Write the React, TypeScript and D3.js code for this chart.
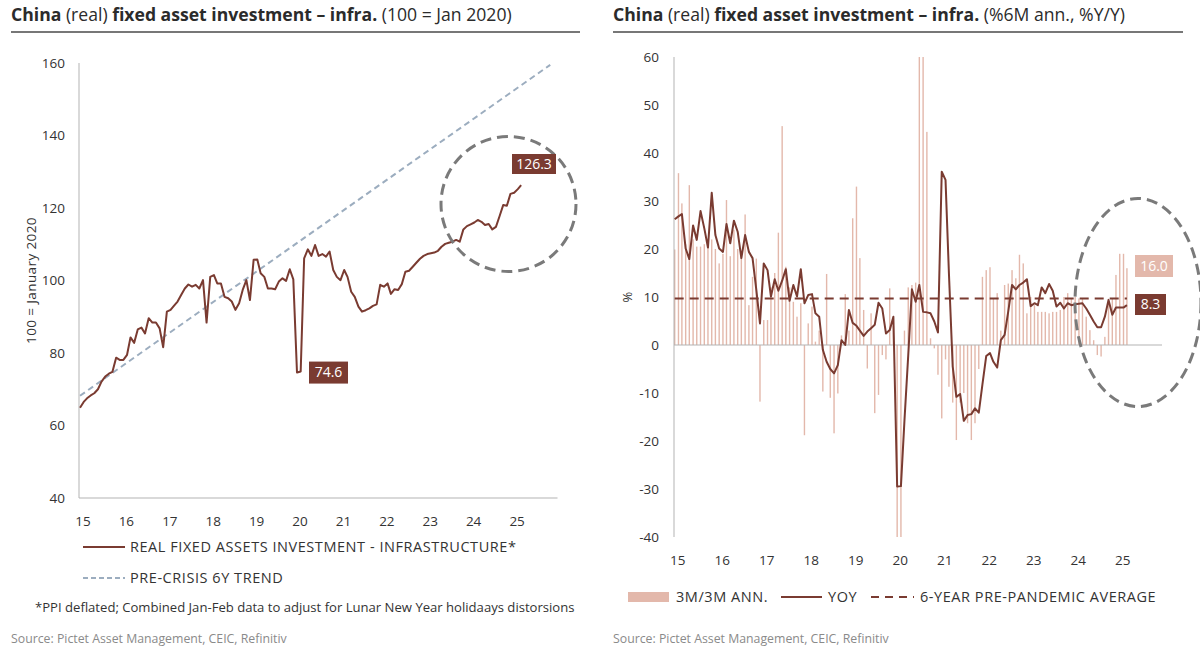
import React from "react";
import * as d3 from "d3";

// ---------- DATA ----------
// Monthly, Jan 2015 .. Mar 2025
const realFai: number[] = [
  64.9, 66.5, 67.5, 68.3, 68.9, 70.0, 72.1, 73.5, 74.3, 74.8, 78.7, 78.1,
  78.1, 79.5, 84.3, 82.8, 86.5, 87.0, 85.4, 89.6, 88.4, 88.4, 86.8, 81.6,
  91.4, 91.9, 93.0, 94.2, 96.0, 97.8, 98.9, 98.3, 98.8, 97.8, 100.1, 88.4,
  101.0, 101.5, 99.2, 99.2, 95.5, 95.1, 94.2, 91.9, 93.7, 97.4, 100.1, 94.6,
  105.7, 105.8, 102.0, 101.0, 97.8, 97.8, 97.6, 99.7, 100.6, 99.9, 103.1, 100.3,
  74.6, 74.9, 106.1, 108.6, 106.8, 109.8, 106.8, 107.3, 106.6, 108.0, 102.9, 101.0,
  100.1, 102.9, 101.0, 96.9, 95.5, 92.8, 91.4, 91.8, 92.3, 93.0, 93.4, 98.8,
  98.3, 99.2, 96.3, 97.6, 97.4, 99.0, 102.4, 102.7, 103.8, 104.9, 106.0, 106.8,
  107.3, 107.5, 107.7, 108.2, 109.3, 110.1, 110.4, 110.7, 111.2, 110.7, 114.1, 115.0,
  115.5, 116.0, 116.7, 116.2, 115.3, 115.6, 114.1, 114.8, 117.8, 120.8, 120.6, 123.9,
  124.2, 125.2, 126.3,
];
const trendStart = { month: 0, value: 68.2 };
const trendEnd = { month: 130, value: 159.5 };
const covidDipRange = [48, 72];

const ann3m3m: number[] = [
  19.9, 35.8, 29.5, 21.0, 33.3, 22.0, 20.5, 20.5, 21.0, 21.5, 22.0, 20.0,
  17.0, 19.0, 30.2, 18.5, 24.0, 20.0, 19.0, 27.2, 8.3, 14.2, 18.0, -11.8,
  5.2, 5.2, 12.0, 15.0, 23.4, 45.6, 16.3, 12.0, 9.0, 5.9, 8.7, -18.8,
  4.5, 8.0, 0.7, 3.0, -9.7, 14.8, -11.0, -18.4, -10.1, 2.0, 10.6, 3.0,
  26.4, 33.0, 18.1, 7.3, -4.9, 6.6, -14.2, -10.4, -2.1, -3.0, 11.8, 4.0,
  -40.0, -40.0, 3.0, 12.0, 12.5, 13.0, 60.0, 60.0, 44.4, 1.4, -0.7, -6.2,
  -15.3, -3.0, -8.7, -12.0, -19.8, -12.0, -10.0, -16.3, -19.8, -16.3, -5.0, 14.2,
  15.6, 16.2, 9.7, 10.8, 3.0, 12.5, 12.8, 15.6, 13.9, 18.8, 17.0, 6.6,
  10.0, 8.3, 6.9, 6.9, 6.9, 6.6, 6.9, 6.9, 7.3, 10.0, 10.8, 9.7,
  10.0, 9.7, 9.7, 5.9, 3.1, 1.0, -2.1, -2.4, 1.7, 9.0, 9.7, 14.6,
  19.0, 19.0, 16.0,
];
const yoy: number[] = [
  26.2, 26.8, 27.3, 20.1, 17.9, 24.9, 21.9, 27.9, 24.3, 20.3, 31.7, 22.9,
  20.1, 19.4, 25.2, 21.2, 25.9, 23.6, 18.1, 22.9, 19.4, 18.1, 11.5, 4.5,
  17.0, 15.6, 10.1, 13.7, 11.3, 13.4, 15.8, 9.2, 12.5, 10.1, 15.8, 8.7,
  10.4, 10.6, 6.6, 5.9, -1.0, -3.5, -5.0, -5.9, -4.2, 1.0, 0.0, 7.3,
  4.6, 4.0, 3.0, 1.9, 2.8, 3.5, 4.2, 8.8, 7.6, 2.4, 3.1, 5.9,
  -29.5, -29.4, -15.7, -2.1, 11.6, 9.0, 12.5, 6.9, 6.8, 6.6, 4.9, 2.6,
  36.1, 34.4, 14.9, -4.5, -10.8, -10.2, -15.8, -14.6, -14.4, -13.2, -14.1, -8.2,
  -2.3, -1.7, -3.5, -4.7, 1.0, 2.1, 7.0, 12.5, 11.6, 12.5, 13.0, 13.7,
  8.1, 8.7, 8.3, 12.0, 10.8, 12.7, 11.3, 8.0, 8.8, 7.6, 8.7, 8.3,
  8.5, 8.6, 8.7, 7.6, 6.3, 4.9, 3.7, 3.7, 5.9, 9.4, 6.3, 7.8,
  7.8, 7.8, 8.3,
];
const prePandemicAvg = 9.7;

const yearTicks = d3.range(2015, 2026);
const leftYTicks = [40, 60, 80, 100, 120, 140, 160];
const rightYTicks = [-40, -30, -20, -10, 0, 10, 20, 30, 40, 50, 60];

// ---------- STYLE ----------
const BROWN = "#7a3b31";
const PINK = "#e3b8ab";
const TREND = "#9cadbf";
const AXIS = "#b3b3b3";
const TEXT = "#333";
const FONT = "'Open Sans', Lato, sans-serif";

const monthDate = (i: number) => new Date(2015, i, 1);
const yearFmt = d3.timeFormat("%y");

export default function App() {
  const domain = [new Date(2015, 0, 1), new Date(2026, 0, 1)];
  const xL = d3.scaleTime().domain(domain).range([80, 557.5]);
  const yL = d3.scaleLinear().domain([40, 160]).range([498, 63]);
  const xR = d3.scaleTime().domain(domain).range([674.7, 1164.2]);
  const yR = d3.scaleLinear().domain([-40, 60]).range([537, 57]);

  const lineL = d3
    .line<number>()
    .x((_, i) => xL(monthDate(i)))
    .y((d) => yL(d));
  const lineR = d3
    .line<number>()
    .x((_, i) => xR(monthDate(i)))
    .y((d) => yR(d));

  const lastL = realFai[realFai.length - 1];
  const dipSlice = realFai.slice(covidDipRange[0], covidDipRange[1]);
  const dipVal = d3.min(dipSlice) as number;
  const dipIdx = covidDipRange[0] + dipSlice.indexOf(dipVal);
  const lastBar = ann3m3m[ann3m3m.length - 1];
  const lastYoy = yoy[yoy.length - 1];

  const barW = 1.4;
  const fs = 13.5;
  const legFs = 14.5;
  const legLs = 0.55;

  return (
    <svg
      width={1200}
      height={656}
      style={{ position: "absolute", left: 0, top: 0, background: "#fff" }}
      fontFamily={FONT}
    >
      {/* ---------- LEFT PANEL ---------- */}
      <text x={11} y={21} fontSize={17.6} fill="#2b2b2b">
        <tspan fontWeight="bold">China</tspan>
        <tspan> (real) </tspan>
        <tspan fontWeight="bold">fixed asset investment – infra.</tspan>
        <tspan> (100 = Jan 2020)</tspan>
      </text>
      <line x1={11} x2={580} y1={32} y2={32} stroke="#777" strokeWidth={2} />

      <line x1={79} x2={79} y1={yL(160)} y2={yL(40)} stroke={AXIS} strokeWidth={1} />
      <line x1={79} x2={557.5} y1={yL(40)} y2={yL(40)} stroke={AXIS} strokeWidth={1} />
      {leftYTicks.map((t) => (
        <text key={t} x={65} y={yL(t)} dy="0.35em" textAnchor="end" fontSize={fs} fill={TEXT}>
          {t}
        </text>
      ))}
      {yearTicks.map((yr) => (
        <text
          key={yr}
          x={xL(new Date(yr, 0, 1)) + 3}
          y={521}
          dy="0.35em"
          textAnchor="middle"
          fontSize={fs}
          fill={TEXT}
        >
          {yearFmt(new Date(yr, 0, 1))}
        </text>
      ))}
      <text
        transform={`translate(31,${yL(100)}) rotate(-90)`}
        textAnchor="middle"
        dy="0.35em"
        fontSize={13.5}
        letterSpacing={0.4}
        fill={TEXT}
      >
        100 = January 2020
      </text>

      <line
        x1={xL(monthDate(trendStart.month))}
        y1={yL(trendStart.value)}
        x2={xL(monthDate(trendEnd.month))}
        y2={yL(trendEnd.value)}
        stroke={TREND}
        strokeWidth={2}
        strokeDasharray="6 4"
      />
      <path d={lineL(realFai) || ""} fill="none" stroke={BROWN} strokeWidth={2} strokeLinejoin="round" />

      <ellipse cx={508.5} cy={204} rx={67.5} ry={67.5} fill="none" stroke="#7a7a7a" strokeWidth={3} strokeDasharray="11 6" />

      <rect x={xL(monthDate(dipIdx)) + 12} y={yL(dipVal) - 11} width={39} height={22} fill={BROWN} />
      <text x={xL(monthDate(dipIdx)) + 31.5} y={yL(dipVal)} dy="0.35em" textAnchor="middle" fontSize={14} fill="#fff">
        {dipVal.toFixed(1)}
      </text>
      <rect x={512} y={154} width={44} height={20} fill={BROWN} />
      <text x={534} y={164} dy="0.35em" textAnchor="middle" fontSize={14} fill="#fff">
        {lastL.toFixed(1)}
      </text>

      <line x1={83} x2={125} y1={547} y2={547} stroke={BROWN} strokeWidth={2} />
      <text x={130} y={547} dy="0.35em" fontSize={legFs} letterSpacing={legLs} fill={TEXT}>
        REAL FIXED ASSETS INVESTMENT - INFRASTRUCTURE*
      </text>
      <line x1={83} x2={125} y1={578} y2={578} stroke={TREND} strokeWidth={2} strokeDasharray="5 3" />
      <text x={130} y={578} dy="0.35em" fontSize={legFs} letterSpacing={legLs} fill={TEXT}>
        PRE-CRISIS 6Y TREND
      </text>
      <text x={35} y={607} dy="0.35em" fontSize={13.1} fill={TEXT}>
        *PPI deflated; Combined Jan-Feb data to adjust for Lunar New Year holidaays distorsions
      </text>
      <text x={11} y={639} dy="0.35em" fontSize={12.3} fill="#8a8a8a">
        Source: Pictet Asset Management, CEIC, Refinitiv
      </text>

      {/* ---------- RIGHT PANEL ---------- */}
      <text x={613} y={21} fontSize={17.6} fill="#2b2b2b">
        <tspan fontWeight="bold">China</tspan>
        <tspan> (real) </tspan>
        <tspan fontWeight="bold">fixed asset investment – infra.</tspan>
        <tspan> (%6M ann., %Y/Y)</tspan>
      </text>
      <line x1={613} x2={1183} y1={32} y2={32} stroke="#777" strokeWidth={2} />

      {ann3m3m.map((v, i) => (
        <rect
          key={i}
          x={xR(monthDate(i)) - barW / 2}
          y={yR(Math.max(0, v))}
          width={barW}
          height={Math.abs(yR(v) - yR(0))}
          fill={PINK}
        />
      ))}

      <line x1={674} x2={674} y1={yR(60)} y2={yR(-40)} stroke={AXIS} strokeWidth={1} />
      <line x1={674} x2={1162} y1={yR(0)} y2={yR(0)} stroke={AXIS} strokeWidth={1} />
      {rightYTicks.map((t) => (
        <text key={t} x={659} y={yR(t)} dy="0.35em" textAnchor="end" fontSize={fs} fill={TEXT}>
          {t}
        </text>
      ))}
      {yearTicks.map((yr) => (
        <text
          key={yr}
          x={xR(new Date(yr, 0, 1)) + 3}
          y={560}
          dy="0.35em"
          textAnchor="middle"
          fontSize={fs}
          fill={TEXT}
        >
          {yearFmt(new Date(yr, 0, 1))}
        </text>
      ))}
      <text
        transform={`translate(627,${yR(10)}) rotate(-90)`}
        textAnchor="middle"
        dy="0.35em"
        fontSize={13}
        fill={TEXT}
      >
        %
      </text>

      <line
        x1={xR(monthDate(0))}
        x2={xR(monthDate(yoy.length - 1))}
        y1={yR(prePandemicAvg)}
        y2={yR(prePandemicAvg)}
        stroke={BROWN}
        strokeWidth={2}
        strokeDasharray="9 6"
      />
      <path d={lineR(yoy) || ""} fill="none" stroke={BROWN} strokeWidth={2} strokeLinejoin="round" />

      <ellipse cx={1138} cy={302.5} rx={63} ry={104} fill="none" stroke="#7a7a7a" strokeWidth={3} strokeDasharray="11 6" />

      <rect x={1135} y={255} width={38} height={22} fill={PINK} />
      <text x={1154} y={266} dy="0.35em" textAnchor="middle" fontSize={14} fill="#fff">
        {lastBar.toFixed(1)}
      </text>
      <rect x={1135} y={294} width={31} height={21} fill={BROWN} />
      <text x={1150.5} y={304.5} dy="0.35em" textAnchor="middle" fontSize={14} fill="#fff">
        {lastYoy.toFixed(1)}
      </text>

      <rect x={628} y={592} width={41} height={10} fill={PINK} />
      <text x={676} y={597} dy="0.35em" fontSize={legFs} letterSpacing={legLs} fill={TEXT}>
        3M/3M ANN.
      </text>
      <line x1={781} x2={822} y1={597} y2={597} stroke={BROWN} strokeWidth={2} />
      <text x={828} y={597} dy="0.35em" fontSize={legFs} letterSpacing={legLs} fill={TEXT}>
        YOY
      </text>
      <line x1={871} x2={914} y1={597} y2={597} stroke={BROWN} strokeWidth={2} strokeDasharray="8 6" />
      <text x={920} y={597} dy="0.35em" fontSize={legFs} letterSpacing={legLs} fill={TEXT}>
        6-YEAR PRE-PANDEMIC AVERAGE
      </text>
      <text x={613} y={639} dy="0.35em" fontSize={12.3} fill="#8a8a8a">
        Source: Pictet Asset Management, CEIC, Refinitiv
      </text>
    </svg>
  );
}
